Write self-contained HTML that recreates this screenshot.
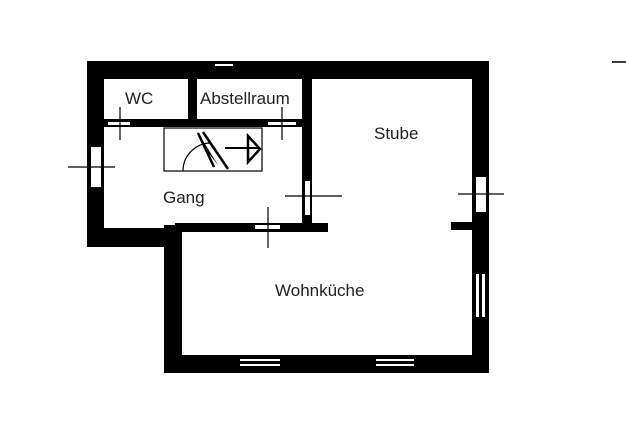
<!DOCTYPE html>
<html><head><style>
html,body{margin:0;padding:0;background:#fff;width:626px;height:438px;overflow:hidden}
svg{display:block}
text{font-family:"Liberation Sans","DejaVu Sans",sans-serif;font-size:17px;fill:#222}
</style></head><body>
<svg width="626" height="438" viewBox="0 0 626 438">
<g fill="#000">
<rect x="87" y="61" width="401" height="18"/>
<rect x="87" y="61" width="17" height="186"/>
<rect x="87" y="228" width="95" height="19"/>
<rect x="175" y="223" width="153" height="9"/>
<rect x="164" y="225" width="18" height="148"/>
<rect x="164" y="355" width="325" height="18"/>
<rect x="472" y="61" width="17" height="312"/>
<rect x="451" y="222" width="22" height="8"/>
<rect x="104" y="119" width="203" height="8"/>
<rect x="188" y="78" width="9" height="42"/>
<rect x="302" y="78" width="10" height="150"/>
</g>
<g fill="#fff">
<rect x="91" y="147" width="10" height="40"/>
<rect x="476" y="177" width="10" height="35"/>
<rect x="476" y="274" width="3" height="43"/>
<rect x="482" y="274" width="3" height="43"/>
<rect x="305" y="181" width="5" height="34"/>
<rect x="108" y="122" width="22" height="3"/>
<rect x="268" y="122" width="28" height="3"/>
<rect x="255" y="225" width="25" height="4"/>
<rect x="240" y="359" width="40" height="2"/>
<rect x="240" y="364" width="40" height="2"/>
<rect x="376" y="359" width="38" height="2"/>
<rect x="376" y="364" width="38" height="2"/>
<rect x="215" y="64" width="18" height="2"/>
</g>
<g stroke="#000" stroke-width="1.2" fill="none">
<rect x="164" y="128" width="98" height="43"/>
<line x1="120" y1="107" x2="120" y2="140"/>
<line x1="282" y1="107" x2="282" y2="140"/>
<line x1="68" y1="167" x2="115" y2="167"/>
<line x1="285" y1="196" x2="342" y2="196"/>
<line x1="268" y1="207" x2="268" y2="248"/>
<line x1="458" y1="194" x2="504" y2="194"/>
<line x1="225" y1="148" x2="260" y2="148" stroke-width="2"/>
<path d="M183 171 A28 28 0 0 1 211 143"/>
<path d="M198 133 L214 167 M203 132 L228 169" stroke-width="2.5"/>
<path d="M248 136 L248 162 L260 149 Z" stroke-width="2.5"/>
</g>
<path d="M197 131 L218 165 L206 150 Z" fill="#000"/>
<line x1="612" y1="62" x2="626" y2="62" stroke="#000" stroke-width="1.5"/>
<text x="125" y="104">WC</text>
<text x="200" y="104">Abstellraum</text>
<text x="374" y="139">Stube</text>
<text x="163" y="203">Gang</text>
<text x="275" y="296">Wohnküche</text>
</svg>
</body></html>
